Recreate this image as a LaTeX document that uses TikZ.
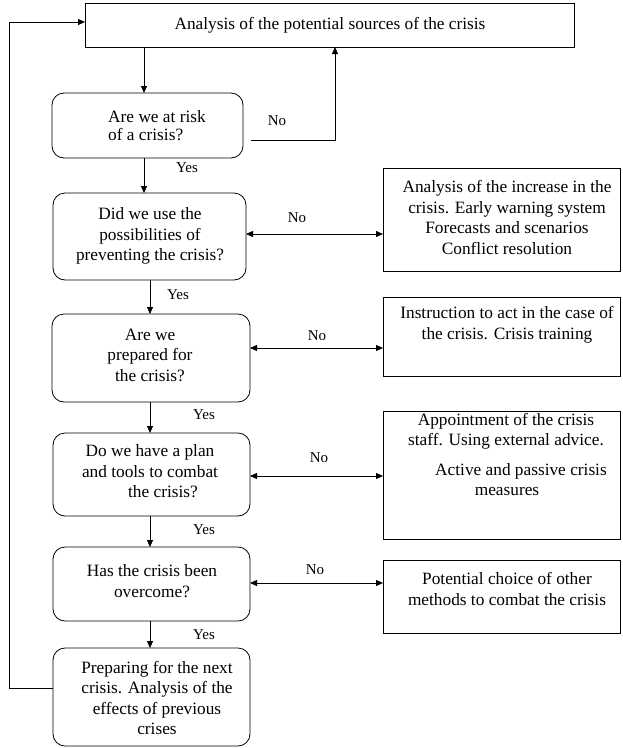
\documentclass[tikz,border=0pt]{standalone}
\usepackage{fontspec}
\setmainfont{Liberation Serif}
\usetikzlibrary{arrows.meta}
\begin{document}
\begin{tikzpicture}[x=1pt,y=-1pt,
  every node/.style={inner sep=0pt, outer sep=0pt},
  sqbox/.style={draw, line width=0.8pt, rectangle},
  rbox/.style={draw, line width=0.8pt, rectangle, rounded corners=12pt},
  txt/.style={align=center, font=\fontsize{17.3}{20.5}\selectfont},
  lbl/.style={font=\fontsize{15}{18}\selectfont},
  arr/.style={line width=0.8pt, -{Triangle[length=7pt,width=6pt]}},
  darr/.style={line width=0.8pt, {Triangle[length=7pt,width=6pt]}-{Triangle[length=7pt,width=6pt]}},
  ln/.style={line width=0.8pt}]
\useasboundingbox (0,0) rectangle (622,748);

% left column boxes
\node[sqbox, minimum width=489pt, minimum height=44pt] (top) at (329.5,25) {};
\node[txt] (toptxt) at (330,25) {Analysis of the potential sources of the crisis};

\node[rbox, minimum width=191pt, minimum height=65pt] (b1) at (147.5,125.5) {};
\node[txt, align=left, font=\fontsize{17.3}{18}\selectfont] (b1txt) at (157,126) {Are we at risk\\of a crisis?};

\node[rbox, minimum width=193pt, minimum height=87pt] (b2) at (149.5,236.5) {};
\node[txt] (b2txt) at (150,236) {Did we use the\\possibilities of\\preventing the crisis?};

\node[rbox, minimum width=198pt, minimum height=88pt] (b3) at (151,358) {};
\node[txt] (b3txt) at (150,355) {Are we\\prepared for\\the crisis?};

\node[rbox, minimum width=197pt, minimum height=83pt] (b4) at (151.5,474.5) {};
\node[txt] (b4txt) at (150,471.5) {Do we have a plan\\and tools to combat\\\hspace*{26pt}the crisis?};

\node[rbox, minimum width=197pt, minimum height=74pt] (b5) at (151.5,584) {};
\node[txt] (b5txt) at (152,581) {Has the crisis been\\overcome?};

\node[rbox, minimum width=197pt, minimum height=98pt] (b6) at (151.5,697) {};
\node[txt] (b6txt) at (157,698) {Preparing for the next\\crisis. Analysis of the\\effects of previous\\crises};

% right column boxes
\node[sqbox, minimum width=237pt, minimum height=103pt] (ra) at (501.5,219.5) {};
\node[txt] (ratxt) at (507,217.5) {Analysis of the increase in the\\crisis. Early warning system\\Forecasts and scenarios\\Conflict resolution};

\node[sqbox, minimum width=237pt, minimum height=79pt] (rb) at (501.5,336.5) {};
\node[txt] (rbtxt) at (507,325) {Instruction to act in the case of\\the crisis. Crisis training};

\node[sqbox, minimum width=237pt, minimum height=128pt] (rc) at (501.5,475) {};
\node[txt] (rctxta) at (506,431.5) {Appointment of the crisis\\staff. Using external advice.};
\node[txt] (rctxtb) at (507,479.5) {\hspace*{28pt}Active and passive crisis\\measures};

\node[sqbox, minimum width=237pt, minimum height=73pt] (rd) at (501.5,596.5) {};
\node[txt] (rdtxt) at (507,589) {Potential choice of other\\methods to combat the crisis};

% vertical flow
\draw[arr] (top.south -| 144,0) -- (b1.north -| 144,0);
\draw[arr] (b1.south -| 144,0) -- (b2.north -| 144,0);
\draw[arr] (b2.south -| 150,0) -- (b3.north -| 150,0);
\draw[arr] (b3.south -| 150,0) -- (b4.north -| 150,0);
\draw[arr] (b4.south -| 150,0) -- (b5.north -| 150,0);
\draw[arr] (b5.south -| 150,0) -- (b6.north -| 150,0);

% "No" loop back to top
\coordinate (nocorner) at (335,140);
\draw[arr] ([xshift=8pt]b1.east |- nocorner) -- (nocorner) -- (top.south -| nocorner);

% double arrows
\draw[darr] (b2.east |- 0,234) -- (ra.west |- 0,234);
\draw[darr] (b3.east |- 0,348) -- (rb.west |- 0,348);
\draw[darr] (b4.east |- 0,476) -- (rc.west |- 0,476);
\draw[darr] (b5.east |- 0,583) -- (rd.west |- 0,583);

% feedback loop
\coordinate (lb) at (9,688);
\coordinate (lt) at (9,22);
\draw[arr] (b6.west |- lb) -- (lb) -- (lt) -- (top.west |- lt);

% labels
\node[lbl] (no1) at (277,121) {No};
\node[lbl] (no2) at (297,218) {No};
\node[lbl] (no3) at (317,336) {No};
\node[lbl] (no4) at (319,458) {No};
\node[lbl] (no5) at (315,570) {No};
\node[lbl] (yes1) at (187,168) {Yes};
\node[lbl] (yes2) at (178,295) {Yes};
\node[lbl] (yes3) at (204,415) {Yes};
\node[lbl] (yes4) at (204,530) {Yes};
\node[lbl] (yes5) at (204,635) {Yes};
\end{tikzpicture}
\end{document}
